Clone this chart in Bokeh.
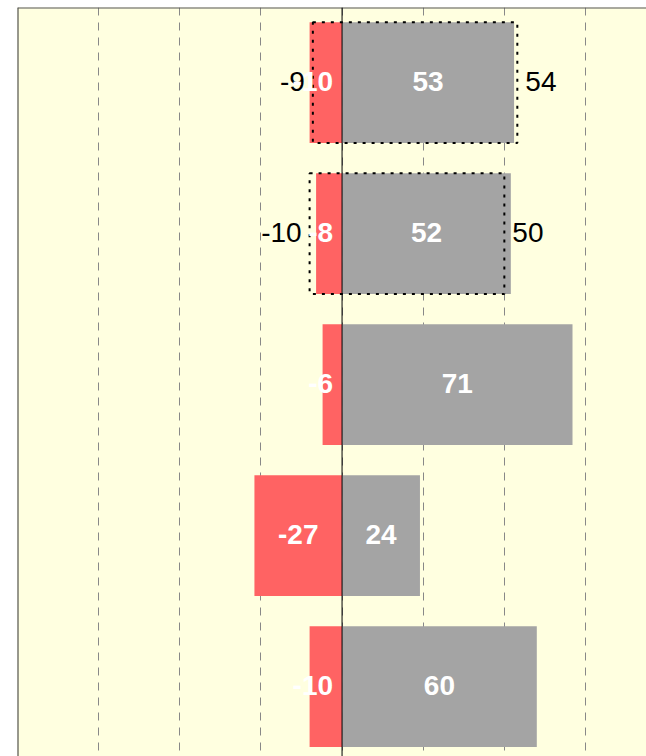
from bokeh.plotting import figure
from bokeh.models import ColumnDataSource, Range1d, FixedTicker, Span
from bokeh.core.properties import value
from bokeh.embed import file_html
from bokeh.resources import INLINE

# ---- data ----
negative = [-10, -8, -6, -27, -10]
positive = [53, 52, 71, 24, 60]
prev_negative = [-9, -10, None, None, None]
prev_positive = [54, 50, None, None, None]
grid_ticks = [-75, -50, -25, 0, 25, 50, 75]

RED = "#ff6363"
GREY = "#a4a4a4"
BG = "#ffffe0"
FONT = value("Liberation Sans")
X0, X1 = -100, 93.8
Y_TOP, Y_BOT = -0.497, 4.463
PX_PER_UNIT = 629 / (X1 - X0)
LABEL_PX = 28
PREV_PX = 28

n = len(positive)
rows = list(range(n))

p = figure(width=646, height=756, output_backend="svg", toolbar_location=None,
           x_range=Range1d(X0, X1), y_range=Range1d(Y_BOT, Y_TOP),
           min_border_left=17, min_border_top=7, min_border_right=0, min_border_bottom=0)
p.background_fill_color = BG
p.border_fill_color = "white"
p.outline_line_color = None
p.xaxis.visible = False
p.yaxis.visible = False
p.ygrid.visible = False
p.xgrid.ticker = FixedTicker(ticks=grid_ticks)
p.xgrid.grid_line_color = "#888888"
p.xgrid.grid_line_dash = "8 7"
p.xgrid.grid_line_width = 1

# frame edges visible in the reference (left and top)
p.add_layout(Span(location=X0, dimension="height", line_color="#333333", line_width=2))
p.add_layout(Span(location=Y_TOP, dimension="width", line_color="#555555", line_width=2))

bars = ColumnDataSource(dict(y=rows, neg=negative, pos=positive, zero=[0] * n))
p.hbar(y="y", left="neg", right="zero", height=0.8, source=bars, fill_color=RED, line_color=None)
p.hbar(y="y", left="zero", right="pos", height=0.8, source=bars, fill_color=GREY, line_color=None)

# previous-value dotted boxes
py, pl, pr = [], [], []
for i in rows:
    if prev_negative[i] is not None and prev_positive[i] is not None:
        py.append(i); pl.append(prev_negative[i]); pr.append(prev_positive[i])
prev = ColumnDataSource(dict(y=py, left=pl, right=pr,
                             ltxt=[str(v) for v in pl], rtxt=[str(v) for v in pr]))
p.hbar(y="y", left="left", right="right", height=0.8, source=prev, fill_alpha=0,
       line_color="black", line_width=2, line_dash="3 6")
p.text(x="left", y="y", text="ltxt", source=prev, text_align="right", text_baseline="middle",
       x_offset=-8, y_offset=-1, text_font=FONT, text_font_size=f"{PREV_PX}px", text_color="black")
p.text(x="right", y="y", text="rtxt", source=prev, text_align="left", text_baseline="middle",
       x_offset=8, y_offset=-1, text_font=FONT, text_font_size=f"{PREV_PX}px", text_color="black")

zero = Span(location=0, dimension="height", line_color="black", line_width=1)
p.add_layout(zero)

# value labels inside bars (centered; kept 9px from zero if too narrow)
def text_width(txt):
    return sum(0.333 if c == "-" else 0.556 for c in txt) * LABEL_PX

def label_offsets(vals, side):
    offs = []
    for v in vals:
        w = text_width(str(v))
        center_px = max(abs(v) * PX_PER_UNIT / 2, 9 + w / 2)
        offs.append(side * center_px)
    return offs

noff = label_offsets(negative, -1)
poff = label_offsets(positive, 1)
lab = ColumnDataSource(dict(
    x=[0] * (2 * n), y=rows + rows, off=noff + poff,
    t=[str(v) for v in negative] + [str(v) for v in positive]))
p.text(x="x", y="y", text="t", x_offset="off", y_offset=-1, source=lab, text_align="center",
       text_baseline="middle", text_font=FONT, text_font_size=f"{LABEL_PX}px",
       text_font_style="bold", text_color="white")

open("out.html", "w").write(file_html(p, INLINE))
